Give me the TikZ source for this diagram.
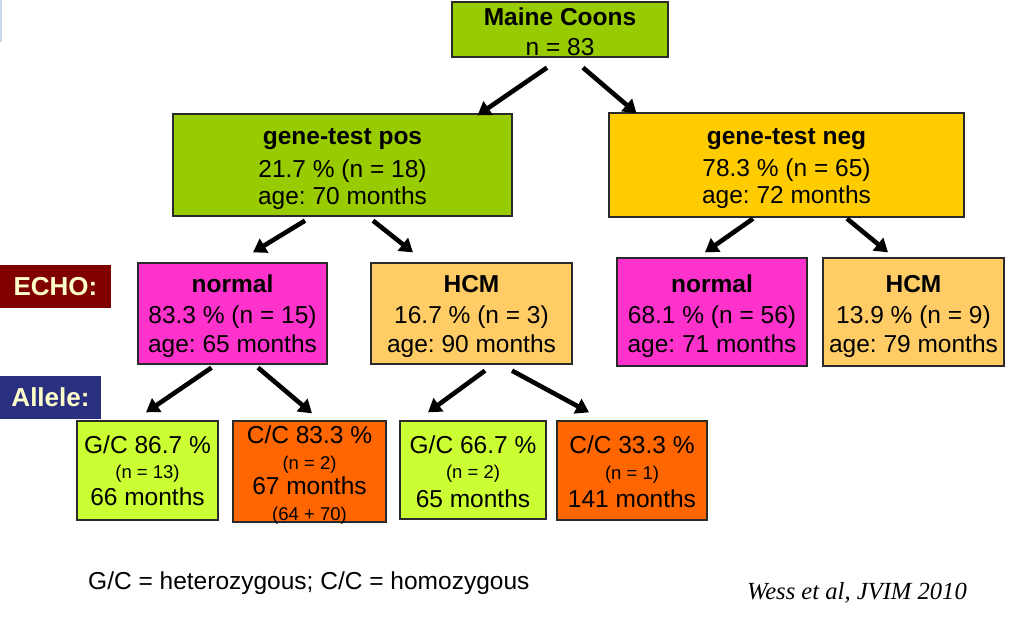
\documentclass[tikz,border=0pt]{standalone}
\usepackage{fontspec}
\setmainfont{Liberation Sans}
\newfontfamily\citefont{Liberation Serif}
\usetikzlibrary{arrows.meta,calc}
\definecolor{cgreen}{HTML}{99CC00}
\definecolor{cyellow}{HTML}{FFCC00}
\definecolor{cpink}{HTML}{FF33CC}
\definecolor{cpeach}{HTML}{FFCC66}
\definecolor{clime}{HTML}{CCFF33}
\definecolor{corange}{HTML}{FF6600}
\definecolor{cmaroon}{HTML}{800000}
\definecolor{cnavy}{HTML}{2B2F80}
\definecolor{ccream}{HTML}{FFFFCC}
\definecolor{cedge}{HTML}{2A2A2A}
\definecolor{cfaint}{HTML}{C9D7EA}
\newcommand\bigf{\fontsize{24.5}{30}\selectfont}
\newcommand\smallf{\fontsize{18.5}{22}\selectfont}
% #1 = declared depth (twice the distance from first baseline to box centre)
\newcommand\celltext[2]{\raisebox{0pt}[0pt][#1]{\renewcommand\arraystretch{1}\setlength\tabcolsep{0pt}\begin{tabular}[t]{c}#2\end{tabular}}}
\begin{document}
\begin{tikzpicture}[x=1pt,y=-1pt,
  box/.style={draw=cedge, line width=1.3pt, inner sep=0pt,
    font=\bigf\frenchspacing, text=black},
  tag/.style={inner sep=0pt, font=\fontsize{26}{30}\selectfont\bfseries, text=ccream},
  arr/.style={line width=4.6pt, draw=black, -{Triangle[length=13pt,width=16pt]}}]
\useasboundingbox (0,0) rectangle (1024,630);
\fill[cfaint] (0,0) rectangle (1.8,42);

% level 0
\node[box, fill=cgreen, minimum width=216pt, minimum height=55pt] (mc) at (560,29.5)
  {\celltext{9pt}{\bfseries Maine Coons\\ n = 83}};

% level 1
\node[box, fill=cgreen, minimum width=339pt, minimum height=102pt] (pos) at (342.5,165)
  {\celltext{42pt}{\bfseries gene-test pos\\[3pt] 21.7 \% (n = 18)\\[-3pt] age: 70 months}};
\node[box, fill=cyellow, minimum width=355pt, minimum height=104pt] (neg) at (786.5,165)
  {\celltext{42pt}{\bfseries gene-test neg\\[2pt] 78.3 \% (n = 65)\\[-3pt] age: 72 months}};

% level 2
\node[box, fill=cpink, minimum width=189pt, minimum height=101pt] (nl) at (232.5,313.5)
  {\celltext{43pt}{\bfseries normal\\[1pt] 83.3 \% (n = 15)\\[-1pt] age: 65 months}};
\node[box, fill=cpeach, minimum width=201pt, minimum height=101pt] (hl) at (471.5,313.5)
  {\celltext{43pt}{\bfseries HCM\\[1pt] 16.7 \% (n = 3)\\[-1pt] age: 90 months}};
\node[box, fill=cpink, minimum width=190pt, minimum height=108pt] (nr) at (712,312)
  {\celltext{40pt}{\bfseries normal\\[1pt] 68.1 \% (n = 56)\\[-1pt] age: 71 months}};
\node[box, fill=cpeach, minimum width=181pt, minimum height=108pt] (hr) at (913.5,312)
  {\celltext{40pt}{\bfseries HCM\\[1pt] 13.9 \% (n = 9)\\[-1pt] age: 79 months}};

% level 3
\node[box, fill=clime, minimum width=141pt, minimum height=99pt] (l1) at (147.5,470.5)
  {\celltext{35pt}{G/C 86.7 \%\\[-5pt] \smallf (n = 13)\\[-3pt] 66 months}};
\node[box, fill=corange, minimum width=153pt, minimum height=101pt] (l2) at (309.5,471.5)
  {\celltext{57pt}{C/C 83.3 \%\\[-4pt] \smallf (n = 2)\\[-5pt] 67 months\\[-4pt] \smallf (64 + 70)}};
\node[box, fill=clime, minimum width=146pt, minimum height=98pt] (l3) at (473,470)
  {\celltext{34pt}{G/C 66.7 \%\\[-5pt] \smallf (n = 2)\\[-1pt] 65 months}};
\node[box, fill=corange, minimum width=150pt, minimum height=99pt] (l4) at (632,470.5)
  {\celltext{35pt}{C/C 33.3 \%\\[-4pt] \smallf (n = 1)\\[-2pt] 141 months}};

% row tags
\node[tag, fill=cmaroon, minimum width=111pt, minimum height=43pt] (echo) at (55.5,286.5) {ECHO:};
\node[tag, fill=cnavy, minimum width=101pt, minimum height=43pt] (allele) at (50.5,397.5) {Allele:};

% arrows
\draw[arr] ($(mc.south)+(-13,10)$) -- ($(pos.north)+(135,2)$);
\draw[arr] ($(mc.south)+(23,10)$) -- ($(neg.north)+(-150,1)$);
\draw[arr] ($(pos.south)+(-37.5,4)$) -- ($(nl.north)+(20.5,-10)$);
\draw[arr] ($(pos.south)+(30.5,4)$) -- ($(hl.north)+(-58.5,-10)$);
\draw[arr] ($(neg.south)+(-33.5,1)$) -- ($(nr.north)+(-7,-5)$);
\draw[arr] ($(neg.south)+(60.5,1)$) -- ($(hr.north)+(-25.5,-5)$);
\draw[arr] ($(nl.south)+(-21,3)$) -- ($(l1.north)+(-1.5,-8)$);
\draw[arr] ($(nl.south)+(25.5,3)$) -- ($(l2.north)+(2.5,-7)$);
\draw[arr] ($(hl.south)+(13.5,6)$) -- ($(l3.north)+(-45,-8)$);
\draw[arr] ($(hl.south)+(40.5,6)$) -- ($(l4.north)+(-43,-8)$);

% footer
\node[anchor=base west, inner sep=0pt, font=\fontsize{24.5}{28}\selectfont] (legend) at (88,589)
  {G/C = heterozygous; C/C = homozygous};
\node[anchor=base east, inner sep=0pt, font=\citefont\itshape\fontsize{24.6}{28}\selectfont] (cite) at (967,599)
  {Wess et al, JVIM 2010};
\end{tikzpicture}
\end{document}
